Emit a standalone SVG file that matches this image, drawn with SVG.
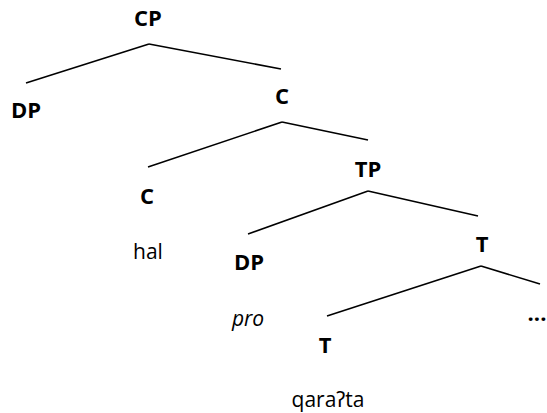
<svg xmlns="http://www.w3.org/2000/svg" width="547" height="413" viewBox="0 0 547 413">
<style>
.lbl{font-family:"Open Sans","Noto Sans","DejaVu Sans",sans-serif;font-weight:bold;font-size:22px;fill:#000;text-anchor:middle}
.w{font-family:"Open Sans","Noto Sans","DejaVu Sans",sans-serif;font-size:21px;fill:#000;text-anchor:middle}
.edge{stroke:#000;stroke-width:1.6;fill:none}
</style>
<rect width="547" height="413" fill="#fff"/>
<g id="connectors">
<line class="edge" x1="149" y1="44" x2="26" y2="83"/>
<line class="edge" x1="149" y1="44" x2="281" y2="69"/>
<line class="edge" x1="282" y1="122" x2="148" y2="167"/>
<line class="edge" x1="282" y1="122" x2="368" y2="140"/>
<line class="edge" x1="368" y1="191" x2="248" y2="234"/>
<line class="edge" x1="368" y1="191" x2="478" y2="216"/>
<line class="edge" x1="481" y1="266" x2="327" y2="316"/>
<line class="edge" x1="481" y1="266" x2="540" y2="284"/>
</g>
<g id="CP"><text class="lbl" x="148" y="26">CP</text></g>
<g id="DP1"><text class="lbl" x="26" y="118">DP</text></g>
<g id="C1"><text class="lbl" x="282" y="104">C</text></g>
<g id="C2"><text class="lbl" x="147" y="204">C</text></g>
<g id="hal"><text class="w" x="148" y="259">hal</text></g>
<g id="TP"><text class="lbl" x="368" y="177">TP</text></g>
<g id="DP2"><text class="lbl" x="249" y="270">DP</text></g>
<g id="T1"><text class="lbl" x="482" y="252">T</text></g>
<g id="pro"><text class="w" x="248" y="326" font-style="italic">pro</text></g>
<g id="dots"><text class="lbl" x="537" y="321">...</text></g>
<g id="T2"><text class="lbl" x="325" y="353">T</text></g>
<g id="qarata"><text class="w" x="328" y="407">qaraʔta</text></g>
</svg>
